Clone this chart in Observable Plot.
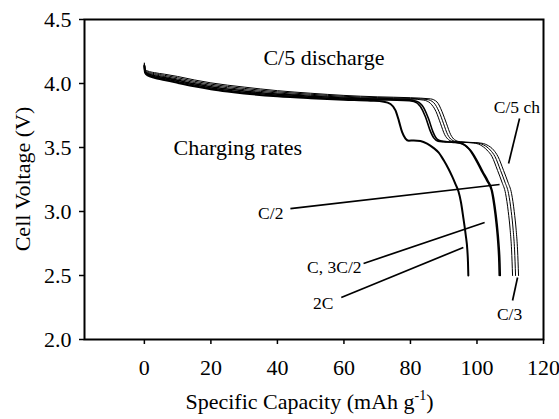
<!DOCTYPE html>
<html>
<head>
<meta charset="utf-8">
<script src="https://cdn.jsdelivr.net/npm/d3@7"></script>
<script src="https://cdn.jsdelivr.net/npm/@observablehq/plot@0.6"></script>
<style>
  html, body { margin: 0; padding: 0; background: #fff; }
  #chart { width: 559px; height: 419px; }
</style>
</head>
<body>
<div id="chart"></div>
<script>
// ---- Data: [specific capacity (mAh/g), cell voltage (V)] for each charging rate ----
const curve2C = [[0,4.135],[0.2,4.085],[1,4.063],[3,4.045],[6,4.028],[10,4.005],[15,3.978],[20,3.955],[25,3.937],[30,3.922],[40,3.9],[50,3.885],[60,3.873],[68,3.866],[72,3.858],[74,3.84],[75.5,3.79],[76.5,3.71],[77.5,3.62],[78.5,3.57],[79.5,3.553],[81,3.555],[83,3.55],[85,3.53],[87,3.495],[88.5,3.46],[90,3.40],[91.5,3.33],[92.6,3.27],[93.6,3.21],[94.4,3.16],[95.2,3.07],[95.9,2.95],[96.6,2.82],[97.1,2.70],[97.3,2.6],[97.4,2.5]];
const curve3C2 = [[0,4.14],[0.2,4.09],[1,4.07],[3,4.053],[6,4.037],[10,4.015],[15,3.988],[20,3.965],[25,3.947],[30,3.932],[40,3.908],[50,3.892],[60,3.879],[70,3.872],[78,3.868],[81,3.86],[83,3.82],[84.5,3.74],[85.8,3.64],[87,3.575],[88.3,3.55],[90,3.545],[93,3.54],[95.5,3.53],[97.5,3.49],[99.5,3.41],[101.3,3.32],[103,3.24],[104.3,3.17],[105.1,3.05],[105.8,2.90],[106.3,2.75],[106.6,2.6],[106.7,2.5]];
const curveC = [[0,4.145],[0.2,4.095],[1,4.077],[3,4.061],[6,4.046],[10,4.025],[15,3.998],[20,3.975],[25,3.957],[30,3.942],[40,3.917],[50,3.9],[60,3.886],[70,3.878],[79,3.874],[82,3.86],[84,3.81],[85.5,3.72],[86.8,3.62],[88,3.565],[89.3,3.55],[91,3.545],[94,3.54],[96,3.525],[98,3.48],[100,3.40],[101.8,3.31],[103.3,3.24],[104.6,3.16],[105.4,3.04],[106.1,2.89],[106.6,2.74],[106.9,2.6],[107.0,2.5]];
const curveC2 = [[0,4.15],[0.2,4.1],[1,4.084],[3,4.069],[6,4.055],[10,4.035],[15,4.008],[20,3.985],[25,3.967],[30,3.952],[40,3.926],[50,3.908],[60,3.893],[70,3.884],[80,3.879],[84,3.87],[86,3.845],[87.7,3.78],[89,3.69],[90.3,3.6],[91.5,3.56],[93,3.545],[96,3.54],[99,3.535],[101,3.52],[103,3.48],[104.5,3.43],[106.2,3.32],[107.5,3.23],[108.6,3.14],[109.4,3.0],[110.0,2.85],[110.4,2.7],[110.7,2.5]];
const curveC5 = [[0,4.155],[0.2,4.105],[1,4.091],[3,4.077],[6,4.064],[10,4.045],[15,4.018],[20,3.995],[25,3.977],[30,3.962],[40,3.935],[50,3.916],[60,3.9],[70,3.89],[80,3.884],[85,3.875],[87,3.85],[88.6,3.78],[89.9,3.69],[91.2,3.6],[92.4,3.56],[94,3.545],[97,3.54],[100,3.535],[102,3.52],[104,3.48],[105.4,3.43],[107.1,3.32],[108.4,3.23],[109.5,3.14],[110.3,3.0],[110.9,2.85],[111.3,2.7],[111.6,2.5]];
const curveC3 = [[0,4.16],[0.2,4.11],[1,4.098],[3,4.085],[6,4.073],[10,4.055],[15,4.028],[20,4.005],[25,3.987],[30,3.972],[40,3.944],[50,3.924],[60,3.907],[70,3.896],[80,3.889],[86,3.88],[88,3.855],[89.5,3.78],[90.8,3.69],[92.1,3.6],[93.3,3.56],[95,3.545],[98,3.54],[101,3.535],[103,3.52],[105,3.48],[106.3,3.43],[108,3.32],[109.3,3.23],[110.4,3.14],[111.2,3.0],[111.8,2.85],[112.2,2.7],[112.5,2.5]];

const seriesNames = ["2C", "3C/2", "C", "C/2", "C/5", "C/3"];
const seriesData = [curve2C, curve3C2, curveC, curveC2, curveC5, curveC3];
const seriesWidth = [2, 1.6, 1.6, 1, 1, 1];

// tick values
const xTicks = [0, 20, 40, 60, 80, 100, 120];
const yTicks = [2.0, 2.5, 3.0, 3.5, 4.0, 4.5];

// large annotations
const bigText = ["C/5 discharge", "Charging rates"];
const bigX = [54.0, 28.1];
const bigY = [4.20, 3.50];

// small rate labels
const smallText = ["C/5 ch", "C/2", "C, 3C/2", "2C", "C/3"];
const smallX = [112.0, 38.0, 57.1, 53.8, 109.8];
const smallY = [3.81, 2.984, 2.56, 2.28, 2.195];

// leader lines in data coordinates
const leaderX1 = [43.9, 65.9, 59.2, 112.8, 112.2];
const leaderY1 = [3.023, 2.594, 2.328, 3.727, 2.484];
const leaderX2 = [106.8, 102.3, 95.9, 109.5, 110.7];
const leaderY2 = [3.211, 2.914, 2.719, 3.375, 2.305];

// ---- build tables ----
const rows = [];
seriesData.forEach((arr, i) => arr.forEach(([c, v]) => rows.push({series: seriesNames[i], cap: c, volt: v, w: seriesWidth[i]})));
const bigLabels = bigText.map((t, i) => ({t, x: bigX[i], y: bigY[i]}));
const smallLabels = smallText.map((t, i) => ({t, x: smallX[i], y: smallY[i]}));
const leaders = leaderX1.map((x1, i) => ({x1, y1: leaderY1[i], x2: leaderX2[i], y2: leaderY2[i]}));

const FONT = "'Liberation Serif', 'Times New Roman', serif";

const xTitle = (index, scales, values, dimensions) => {
  const {width, height, marginLeft, marginRight} = dimensions;
  const g = d3.create("svg:text")
    .attr("x", (marginLeft + width - marginRight) / 2 - 4)
    .attr("y", height - 10)
    .attr("text-anchor", "middle")
    .attr("font-family", FONT)
    .attr("font-size", 22)
    .attr("fill", "black");
  g.append("tspan").text("Specific Capacity (mAh g");
  g.append("tspan").attr("font-size", 14).attr("dy", -9).text("-1");
  g.append("tspan").attr("dy", 9).text(")");
  return g.node();
};

const yTitle = (index, scales, values, dimensions) => {
  const {height, marginTop, marginBottom} = dimensions;
  const cy = (marginTop + height - marginBottom) / 2;
  return d3.create("svg:text")
    .attr("transform", `translate(22,${cy}) rotate(-90)`)
    .attr("text-anchor", "middle")
    .attr("dy", "0.35em")
    .attr("font-family", FONT)
    .attr("font-size", 22)
    .attr("fill", "black")
    .text("Cell Voltage (V)")
    .node();
};

const chart = Plot.plot({
  width: 559,
  height: 419,
  marginLeft: 84,
  marginRight: 16,
  marginTop: 19,
  marginBottom: 80,
  style: {fontFamily: FONT, fontSize: "22px", color: "black", background: "white"},
  x: {domain: [-18, 120]},
  y: {domain: [2.0, 4.5]},
  marks: [
    Plot.axisX({ticks: xTicks, tickSize: 5, tickPadding: 15, fontSize: 22, label: null, strokeWidth: 1.5}),
    Plot.axisY({ticks: yTicks, tickSize: 5, tickPadding: 8, fontSize: 22, label: null, tickFormat: d3.format(".1f"), strokeWidth: 1.5}),
    Plot.line(rows, {x: "cap", y: "volt", z: "series", stroke: "black", strokeWidth: "w", curve: "monotone-x"}),
    Plot.link(leaders, {x1: "x1", y1: "y1", x2: "x2", y2: "y2", stroke: "black", strokeWidth: 1.7}),
    Plot.text(bigLabels, {x: "x", y: "y", text: "t", fontSize: 22, fill: "black"}),
    Plot.text(smallLabels, {x: "x", y: "y", text: "t", fontSize: 17.5, fill: "black"}),
    Plot.frame({stroke: "black", strokeWidth: 2}),
    xTitle,
    yTitle
  ]
});
document.getElementById("chart").appendChild(chart);
</script>
</body>
</html>
